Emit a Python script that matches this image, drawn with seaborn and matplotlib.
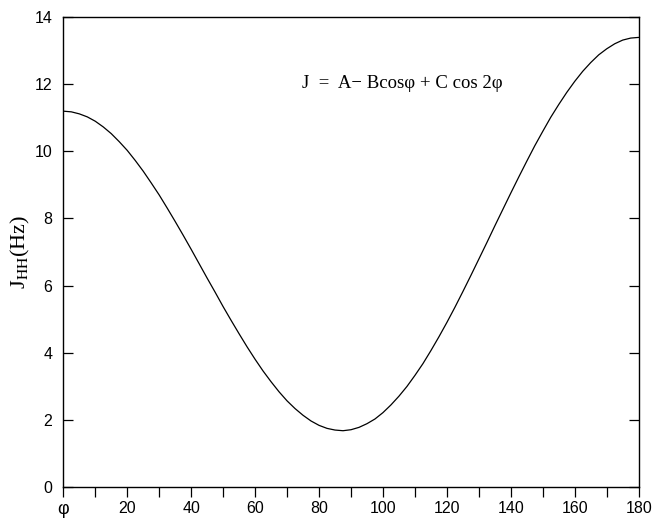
import matplotlib
matplotlib.use("Agg")
import matplotlib.pyplot as plt
import seaborn as sns
import pandas as pd
from matplotlib.ticker import MultipleLocator

# Data (dihedral angle in degrees, coupling in Hz)
phi = [0, 2.5, 5, 7.5, 10, 12.5, 15, 17.5, 20, 22.5, 25, 27.5, 30, 32.5, 35,
       37.5, 40, 42.5, 45, 47.5, 50, 52.5, 55, 57.5, 60, 62.5, 65, 67.5, 70,
       72.5, 75, 77.5, 80, 82.5, 85, 87.5, 90, 92.5, 95, 97.5, 100, 102.5, 105,
       107.5, 110, 112.5, 115, 117.5, 120, 122.5, 125, 127.5, 130, 132.5, 135,
       137.5, 140, 142.5, 145, 147.5, 150, 152.5, 155, 157.5, 160, 162.5, 165,
       167.5, 170, 172.5, 175, 177.5, 180]
j_hh = [11.20, 11.18, 11.12, 11.03, 10.90, 10.73, 10.53, 10.29, 10.03, 9.73,
        9.41, 9.06, 8.70, 8.31, 7.91, 7.50, 7.08, 6.65, 6.22, 5.80, 5.37, 4.96,
        4.56, 4.17, 3.80, 3.45, 3.13, 2.83, 2.56, 2.33, 2.13, 1.96, 1.83, 1.74,
        1.69, 1.67, 1.70, 1.77, 1.88, 2.02, 2.21, 2.44, 2.70, 2.99, 3.32, 3.67,
        4.06, 4.47, 4.90, 5.35, 5.82, 6.30, 6.79, 7.28, 7.78, 8.27, 8.76, 9.24,
        9.71, 10.17, 10.60, 11.02, 11.40, 11.76, 12.09, 12.39, 12.65, 12.88,
        13.06, 13.21, 13.32, 13.38, 13.40]
x_ticks = [0, 20, 40, 60, 80, 100, 120, 140, 160, 180]
x_tick_labels = ["φ", "20", "40", "60", "80", "100", "120", "140", "160", "180"]
y_ticks = [0, 2, 4, 6, 8, 10, 12, 14]
formula = "J  =  A\u2212 Bcosφ + C cos 2φ"

df = pd.DataFrame({"phi": phi, "J": j_hh})

sns.set_style("ticks")
plt.rcParams["font.family"] = ["Liberation Sans", "DejaVu Sans"]
plt.rcParams["mathtext.fontset"] = "stix"

fig = plt.figure(figsize=(6.54, 5.19), dpi=100)
ax = fig.add_axes([0.0968, 0.0622, 0.8798, 0.9045])

line_kw = dict(solid_joinstyle="round", solid_capstyle="round")
sns.lineplot(data=df, x="phi", y="J", ax=ax, color="black", linewidth=0.9,
             **line_kw)

ax.set_xlim(0, 180)
ax.set_ylim(0, 14)
ax.set_xticks(x_ticks)
ax.set_xticklabels(x_tick_labels)
ax.xaxis.set_minor_locator(MultipleLocator(10))
ax.set_yticks(y_ticks)

ax.tick_params(axis="x", which="both", direction="out", length=7, width=0.9,
               labelsize=11.5, top=False, pad=3, color="black",
               labelcolor="black")
ax.tick_params(axis="y", which="both", direction="in", length=7, width=0.9,
               labelsize=11.5, left=True, right=True, pad=8, color="black",
               labelcolor="black")
ax.get_xticklabels()[0].set_fontsize(13)

for s in ax.spines.values():
    s.set_visible(True)
    s.set_linewidth(1.0)
    s.set_color("black")

ax.set_xlabel("")
ax.set_ylabel(r"J$_{\mathrm{HH}}$(Hz)", fontsize=16, color="black",
              family=["Liberation Serif", "DejaVu Serif"], labelpad=2)

ax.text(0.415, 0.860, formula, transform=ax.transAxes, fontsize=13.5,
        color="black", family=["Liberation Serif", "DejaVu Serif"],
        ha="left", va="center")

fig.savefig("out.png", dpi=100)
